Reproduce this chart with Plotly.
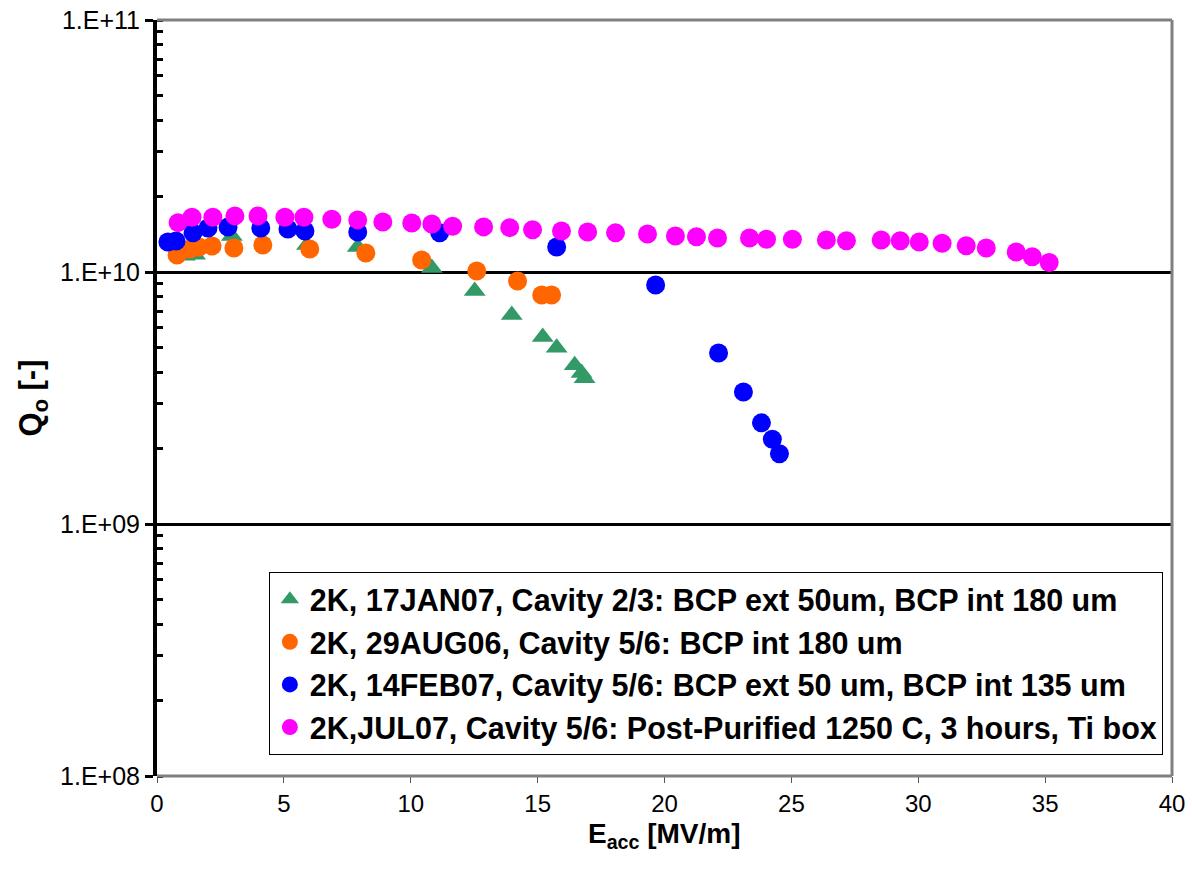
import plotly.graph_objects as go

# --- data ---
green_x = [1.1, 1.5, 2.95, 5.91, 7.91, 10.83, 12.52, 13.98, 15.20, 15.75, 16.46, 16.73, 16.85]
green_y = [1.16e10, 1.17e10, 1.39e10, 1.28e10, 1.256e10, 1.037e10, 0.84e10, 0.675e10,
           0.552e10, 0.50e10, 0.427e10, 0.397e10, 0.379e10]

orange_x = [0.79, 1.30, 1.65, 2.17, 3.03, 4.17, 6.02, 8.23, 10.43, 12.60, 14.21, 15.16, 15.55]
orange_y = [1.168e10, 1.234e10, 1.256e10, 1.268e10, 1.245e10, 1.28e10, 1.234e10, 1.19e10,
            1.116e10, 1.009e10, 0.921e10, 0.81e10, 0.81e10]

blue_x = [0.43, 0.75, 1.42, 2.01, 2.80, 4.09, 5.16, 5.83, 7.91, 11.14, 15.75, 19.65,
          22.13, 23.11, 23.82, 24.25, 24.53]
blue_y = [1.315e10, 1.327e10, 1.43e10, 1.495e10, 1.508e10, 1.495e10, 1.48e10, 1.455e10,
          1.44e10, 1.43e10, 1.256e10, 0.888e10, 4.77e9, 3.34e9, 2.52e9, 2.17e9, 1.90e9]

mag_x = [0.83, 1.38, 2.20, 3.07, 3.98, 5.04, 5.79, 6.89, 7.91, 8.90, 10.04, 10.83, 11.65,
         12.87, 13.90, 14.80, 15.94, 16.97, 18.07, 19.33, 20.43, 21.26, 22.09, 23.35, 24.02,
         25.04, 26.38, 27.17, 28.54, 29.29, 30.04, 30.94, 31.89, 32.68, 33.86, 34.49, 35.16]
mag_y = [1.57e10, 1.65e10, 1.65e10, 1.67e10, 1.67e10, 1.65e10, 1.65e10, 1.62e10, 1.61e10,
         1.58e10, 1.565e10, 1.55e10, 1.52e10, 1.51e10, 1.50e10, 1.47e10, 1.455e10, 1.44e10,
         1.43e10, 1.415e10, 1.39e10, 1.38e10, 1.365e10, 1.365e10, 1.35e10, 1.35e10, 1.34e10,
         1.33e10, 1.34e10, 1.33e10, 1.315e10, 1.30e10, 1.27e10, 1.245e10, 1.20e10, 1.15e10,
         1.09e10]

names = [
    "2K, 17JAN07, Cavity 2/3: BCP ext 50um, BCP int 180 um",
    "2K, 29AUG06, Cavity 5/6: BCP int 180 um",
    "2K, 14FEB07, Cavity 5/6: BCP ext 50 um, BCP int 135 um",
    "2K,JUL07, Cavity 5/6: Post-Purified 1250 C, 3 hours, Ti box",
]

y_tickvals = [1e8, 1e9, 1e10, 1e11]
y_ticktext = ["1.E+08", "1.E+09", "1.E+10", "1.E+11"]
x_tickvals = [0, 5, 10, 15, 20, 25, 30, 35, 40]
x_title = "<b>E<sub>acc</sub> [MV/m]</b>"
y_title = "<b>Q<sub>o</sub> [-]</b>"

FONT = "Liberation Sans, Arial, sans-serif"

fig = go.Figure()
series = [
    (green_x, green_y, "#339966", "triangle-up", 19),
    (orange_x, orange_y, "#FF6600", "circle", 19),
    (blue_x, blue_y, "#0000FF", "circle", 19),
    (mag_x, mag_y, "#FF00FF", "circle", 19),
]
for i, ((xs, ys, col, sym, sz), nm) in enumerate(zip(series, names)):
    fig.add_trace(go.Scatter(
        x=xs, y=ys, mode="markers", name=nm,
        marker=dict(color=col, symbol=sym, size=sz, line=dict(width=0)),
    ))

fig.update_layout(
    width=1188, height=862,
    margin=dict(l=157, r=16, t=20, b=86, autoexpand=False),
    paper_bgcolor="white", plot_bgcolor="white",
    font=dict(family=FONT, color="black"),
    showlegend=True,
    legend=dict(
        x=0.991, y=0.028, xanchor="right", yanchor="bottom",
        bgcolor="white", bordercolor="black", borderwidth=1,
        font=dict(family=FONT, size=30.5, color="black", weight="bold"),
        itemsizing="trace",
    ),
    xaxis=dict(
        range=[0, 40], tickmode="array", tickvals=x_tickvals, automargin=False,
        ticks="outside", ticklen=6, tickwidth=1, tickcolor="#555555",
        showline=False, showgrid=False, zeroline=False,
        tickfont=dict(family=FONT, size=24),
    ),
    yaxis=dict(
        type="log", range=[8, 11], tickmode="array", tickvals=y_tickvals,
        ticktext=y_ticktext, automargin=False,
        ticks="outside", ticklen=8, tickwidth=3, tickcolor="black",
        showline=True, linecolor="black", linewidth=4,
        showgrid=True, gridcolor="black", gridwidth=3, zeroline=False,
        tickfont=dict(family=FONT, size=25),
        minor=dict(ticks="inside", ticklen=6, tickwidth=3, tickcolor="black",
                   dtick="D1", showgrid=False),
        title=dict(text=y_title, font=dict(family=FONT, size=31), standoff=10),
    ),
)

# x-axis title as an annotation so it can sit close to the tick labels
fig.add_annotation(text=x_title, xref="paper", yref="paper", x=0.5, y=0,
                   xanchor="center", yanchor="middle", yshift=-59, showarrow=False,
                   font=dict(family=FONT, size=28, color="black"))

# gray plot-area border (top, right, bottom)
border = dict(color="#808080", width=3)
fig.add_shape(type="line", xref="paper", yref="paper", x0=0, x1=1, y0=1, y1=1,
              line=border, layer="above")
fig.add_shape(type="line", xref="paper", yref="paper", x0=1, x1=1, y0=0, y1=1,
              line=border, layer="above")
fig.add_shape(type="line", xref="paper", yref="paper", x0=0, x1=1, y0=0, y1=0,
              line=border, layer="above")

fig.write_html("out.html", config={"displayModeBar": False},
               post_script="document.body.style.margin='0px';")
